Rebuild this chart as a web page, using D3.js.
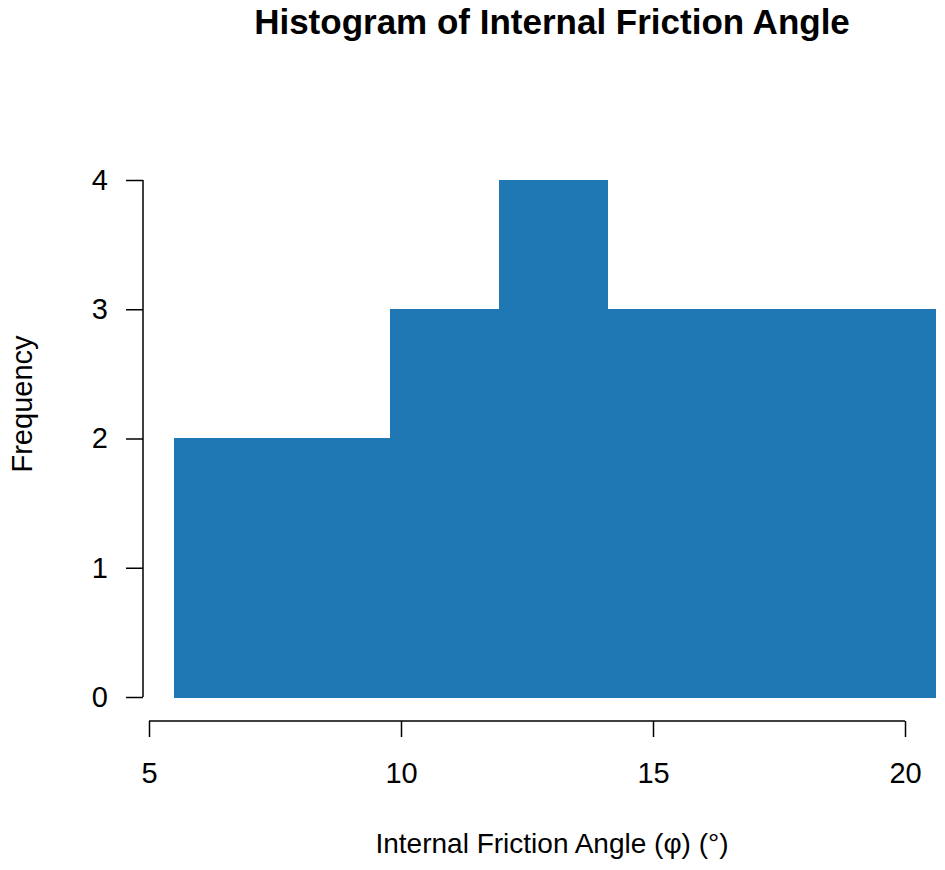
<!DOCTYPE html>
<html>
<head>
<meta charset="utf-8">
<title>Histogram of Internal Friction Angle</title>
<style>
  body { margin: 0; background: #fff; }
  text { font-family: "Liberation Sans", Arial, sans-serif; fill: #000; }
  .bar { fill: #1f77b4; stroke: #1f77b4; stroke-width: 1; shape-rendering: crispEdges; }
  .axis path, .axis line { stroke: #000; stroke-width: 1.5; }
</style>
</head>
<body>
<div id="chart"></div>
<script src="https://cdn.jsdelivr.net/npm/d3@7"></script>
<script>
// bin edges and counts
var binEdges = [5.5, 7.65, 9.8, 11.95, 14.1, 16.27, 18.43, 20.6];
var counts = [2, 2, 3, 4, 3, 3, 3];
var xTicks = [5, 10, 15, 20];
var yTicks = [0, 1, 2, 3, 4];

var w = 945,
    h = 870;

var svg = d3.select("#chart")
  .append("svg")
  .attr("width", w)
  .attr("height", h);

var x = d3.scaleLinear().domain([5, 20]).range([149, 905]);
var y = d3.scaleLinear().domain([0, 4]).range([697, 180]);

var bins = counts.map(function(c, i) {
  return { x0: binEdges[i], x1: binEdges[i + 1], n: c };
});

// bars
svg.selectAll(".bar")
  .data(bins)
  .enter()
  .append("rect")
  .attr("class", "bar")
  .attr("x", function(d) { return x(d.x0); })
  .attr("y", function(d) { return y(d.n); })
  .attr("width", function(d) { return x(d.x1) - x(d.x0); })
  .attr("height", function(d) { return y(0) - y(d.n); });

// axes, R style (line spans first to last tick)
var xAxis = svg.append("g")
  .attr("class", "axis")
  .attr("transform", "translate(0,721)")
  .call(d3.axisBottom(x).tickValues(xTicks).tickFormat(d3.format("d"))
    .tickSize(16).tickSizeOuter(0).tickPadding(25));
xAxis.select(".domain").attr("d", "M" + x(5) + ",0H" + x(20));
xAxis.selectAll("text")
  .attr("font-size", "29px")
  .style("font-family", "Liberation Sans, Arial, sans-serif");

var yAxis = svg.append("g")
  .attr("class", "axis")
  .attr("transform", "translate(143,0)")
  .call(d3.axisLeft(y).tickValues(yTicks).tickFormat(d3.format("d"))
    .tickSize(17).tickSizeOuter(0).tickPadding(18));
yAxis.select(".domain").attr("d", "M0," + y(0) + "V" + y(4));
yAxis.selectAll("text")
  .attr("font-size", "29px")
  .style("font-family", "Liberation Sans, Arial, sans-serif");

// labels
svg.append("text")
  .attr("x", 552)
  .attr("y", 34)
  .attr("text-anchor", "middle")
  .attr("font-size", "35px")
  .style("font-weight", "bold")
  .text("Histogram of Internal Friction Angle");

svg.append("text")
  .attr("x", 552)
  .attr("y", 853)
  .attr("text-anchor", "middle")
  .attr("font-size", "28px")
  .text("Internal Friction Angle (\u03c6) (\u00b0)");

svg.append("text")
  .attr("transform", "translate(32,404) rotate(-90)")
  .attr("text-anchor", "middle")
  .attr("font-size", "29px")
  .text("Frequency");
</script>
</body>
</html>
